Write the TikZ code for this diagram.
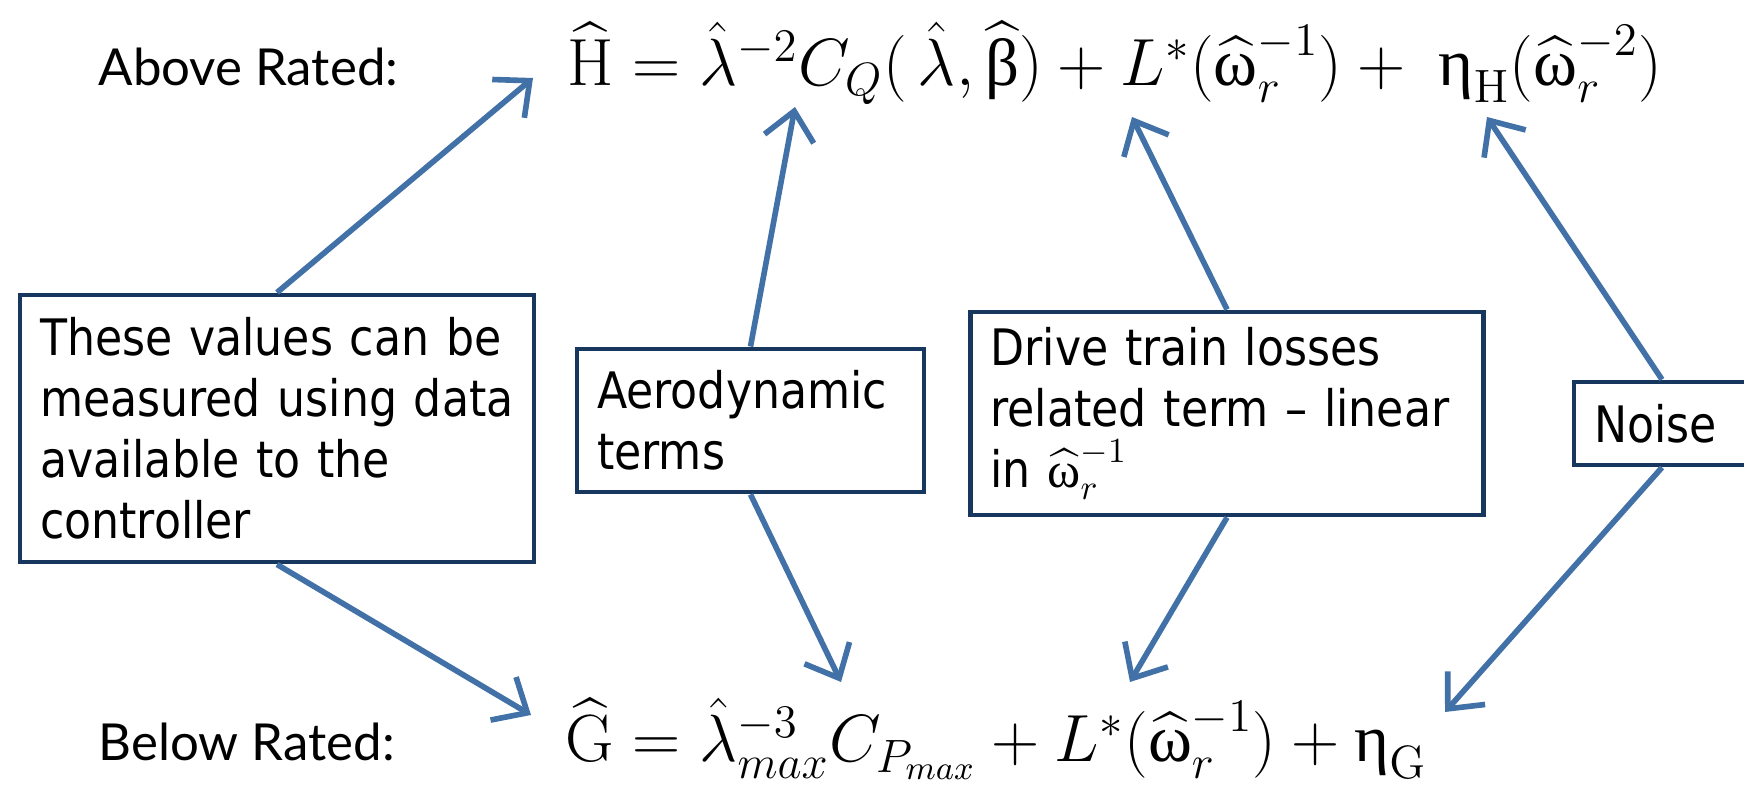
\documentclass[tikz,border=0pt]{standalone}
\usepackage{fix-cm}
\usepackage{amsmath}
\usepackage[no-math]{fontspec}
\setmainfont{DejaVu Sans}[FakeStretch=0.88]
\newfontfamily\labelfont{Lato}
\newfontfamily\grk{Liberation Serif}
\usetikzlibrary{arrows.meta}

\definecolor{boxblue}{RGB}{23,55,94}
\definecolor{arrowblue}{RGB}{65,113,166}

\newcommand{\grkup}[1]{\text{\grk #1}}

\begin{document}
\begin{tikzpicture}[>={Straight Barb[length=2.8mm,width=5mm]},
    termbox/.style={draw=boxblue, line width=1.4pt, fill=white, align=left,
      inner xsep=0.2cm, font=\fontsize{14.3}{17.4}\selectfont},
    pointer/.style={->, line width=1.6pt, arrowblue},
    ratelabel/.style={font=\labelfont\fontsize{14.5}{17}\selectfont, anchor=base west, inner sep=0pt},
    eqn/.style={font=\fontsize{19}{22}\selectfont, anchor=base west, inner sep=0pt}]

    % Frame of the page
    \useasboundingbox (0,0) rectangle (17.44,7.89);
    \clip (0,0) rectangle (17.44,7.89);
    \fill[white] (0,0) rectangle (17.44,7.89);

    % Rated labels
    \node[ratelabel] (above) at (0.98,7.03) {Above Rated:};
    \node[ratelabel] (below) at (0.98,0.28) {Below Rated:};

    % Estimator equations
    \node[eqn] (eqH) at (5.67,7.03)
      {$\widehat{\mathrm{H}} = \hat{\lambda}^{-2} C_{Q}(\,\hat{\lambda},\widehat{\grkup{β}}) + L^{*}(\widehat{\grkup{ω}}_{r}^{-1}) + \;\grkup{η}_{\mathrm{H}}(\widehat{\grkup{ω}}_{r}^{-2})$};
    \node[eqn] (eqG) at (5.65,0.27)
      {$\widehat{\mathrm{G}} = \hat{\lambda}_{max}^{-3} C_{P_{max}} + L^{*}(\widehat{\grkup{ω}}_{r}^{-1}) + \grkup{η}_{\mathrm{G}}$};

    % Term boxes
    \node[termbox, minimum width=5.14cm, minimum height=2.67cm, text width=4.74cm] (measured) at (2.77,3.605)
      {These values can be\\measured using data\\available to the\\controller};
    \node[termbox, minimum width=3.47cm, minimum height=1.43cm, text width=3.07cm] (aero) at (7.505,3.685)
      {Aerodynamic\\terms};
    \node[termbox, minimum width=5.13cm, minimum height=2.03cm, text width=4.73cm] (drive) at (12.27,3.755)
      {Drive train losses\\related term – linear\\in $\widehat{\grkup{ω}}_{r}^{-1}$};
    \node[termbox, minimum width=1.76cm, minimum height=0.83cm, text width=1.36cm] (noise) at (16.62,3.655)
      {Noise};

    % Arrow tips at the terms
    \coordinate (tipH) at (5.33,7.11);
    \coordinate (tipCQ) at (7.95,6.82);
    \coordinate (tipLH) at (11.32,6.72);
    \coordinate (tipetaH) at (14.87,6.72);
    \coordinate (tipG) at (5.31,0.74);
    \coordinate (tipCP) at (8.41,1.07);
    \coordinate (tipLG) at (11.30,1.07);
    \coordinate (tipetaG) at (14.45,0.77);

    % Pointers up and down
    \draw[pointer] (measured.north) -- (tipH);
    \draw[pointer] (measured.south) -- (tipG);
    \draw[pointer] (aero.north) -- (tipCQ);
    \draw[pointer] (aero.south) -- (tipCP);
    \draw[pointer] (drive.north) -- (tipLH);
    \draw[pointer] (drive.south) -- (tipLG);
    \draw[pointer] (noise.north) -- (tipetaH);
    \draw[pointer] (noise.south) -- (tipetaG);

\end{tikzpicture}
\end{document}
